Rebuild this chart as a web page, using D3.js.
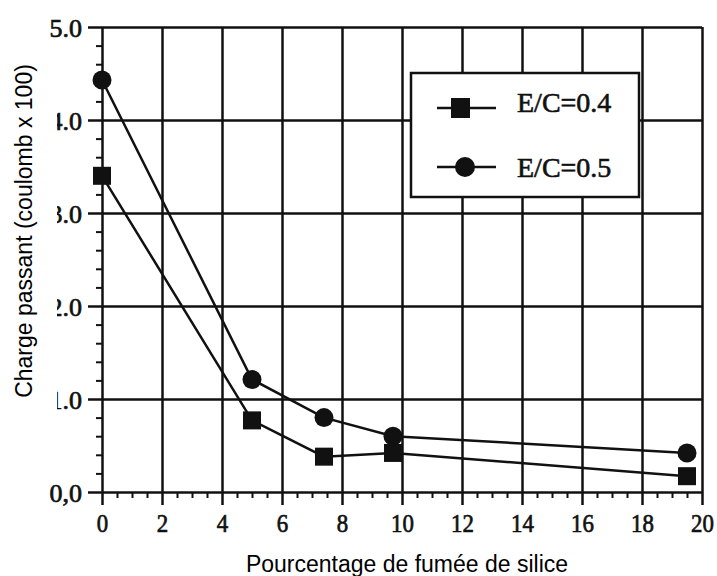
<!DOCTYPE html>
<html>
<head>
<meta charset="utf-8">
<script src="https://cdn.jsdelivr.net/npm/d3@7"></script>
<style>
  body { margin: 0; background: #fff; }
  svg { display: block; }
</style>
</head>
<body>
<svg id="canvas" width="717" height="576"></svg>
<script>
(function () {

    // % of silica fume for each series
    var pct04 = [0, 5, 7.4, 9.7, 19.5];
    var pct05 = [0, 5, 7.4, 9.7, 19.5];
    // charge passed (coulomb x 100)
    var ec04 = [3.40, 0.77, 0.38, 0.42, 0.17];
    var ec05 = [4.43, 1.21, 0.80, 0.60, 0.42];

    var seriesNames = ["E/C=0.4", "E/C=0.5"];

    var xTicks = [0, 2, 4, 6, 8, 10, 12, 14, 16, 18, 20];
    var xTickLabels = ["0", "2", "4", "6", "8", "10", "12", "14", "16", "18", "20"];
    var yTicks = [0, 1, 2, 3, 4, 5];
    var yTickLabels = ["0,0", "1.0", "2.0", "3.0", "4.0", "5.0"];

    var xTitle = "Pourcentage de fumée de silice";
    var yTitle = "Charge passant (coulomb x 100)";

    var ink = "#111";
    var serif = "'Liberation Serif', 'Times New Roman', serif";
    var sans = "'Liberation Sans', Arial, sans-serif";

    const svg = d3.select("#canvas");

    var x = d3.scaleLinear().domain([0, 20]).range([102, 702]);
    var y = d3.scaleLinear().domain([0, 5]).range([492, 27]);

    // vertical grid lines + x labels (lines run a bit below the axis)
    var xAxis = svg.append("g")
        .attr("transform", "translate(0," + y(5) + ")")
        .call(d3.axisBottom(x)
            .tickValues(xTicks)
            .tickFormat(function (d, i) { return xTickLabels[i]; })
            .tickSize(y(0) - y(5) + 13)
            .tickSizeOuter(0)
            .tickPadding(9))
        .call((g) => g.select(".domain").remove());

    xAxis.selectAll("line").attr("stroke", ink).attr("stroke-width", 2.5);
    xAxis.selectAll("text")
        .attr("font-family", serif)
        .attr("font-size", 26)
        .attr("fill", ink)
        .attr("stroke", ink)
        .attr("stroke-width", 0.7)
        .attr("transform", "scale(0.88,1)");

    // horizontal grid lines + y labels (lines run a bit left of the axis)
    var yAxis = svg.append("g")
        .attr("transform", "translate(" + x(20) + ",0)")
        .call(d3.axisLeft(y)
            .tickValues(yTicks)
            .tickFormat(function (d, i) { return yTickLabels[i]; })
            .tickSize(x(20) - x(0) + 14)
            .tickSizeOuter(0)
            .tickPadding(6))
        .call((g) => g.select(".domain").remove());

    yAxis.selectAll("line").attr("stroke", ink).attr("stroke-width", 2.5);
    yAxis.selectAll("text")
        .attr("font-family", serif)
        .attr("font-size", 26)
        .attr("dy", "0.36em")
        .attr("fill", ink)
        .attr("stroke", ink)
        .attr("stroke-width", 0.7);

    // minor ticks
    var xMinor = d3.range(0, 20.01, 0.5).filter(function (v) { return v % 2 !== 0; });
    var yMinor = d3.range(0, 5.01, 0.2).filter(function (v) { return Math.abs(v - Math.round(v)) > 0.01; });

    svg.append("g")
        .attr("transform", "translate(0," + y(0) + ")")
        .call(d3.axisBottom(x).tickValues(xMinor).tickSize(6).tickFormat(""))
        .call((g) => g.select(".domain").remove())
        .selectAll("line").attr("stroke", ink).attr("stroke-width", 2);

    svg.append("g")
        .attr("transform", "translate(" + x(0) + ",0)")
        .call(d3.axisLeft(y).tickValues(yMinor).tickSize(6).tickFormat(""))
        .call((g) => g.select(".domain").remove())
        .selectAll("line").attr("stroke", ink).attr("stroke-width", 2);

    // the white label box that clips the left tick labels
    svg.append("rect")
        .attr("x", 0).attr("y", 50)
        .attr("width", 57).attr("height", 368)
        .attr("fill", "#fff");

    // axis titles
    svg.append("text")
        .attr("x", 407).attr("y", 572)
        .attr("text-anchor", "middle")
        .attr("font-family", sans)
        .attr("font-size", 23)
        .attr("fill", "#000")
        .text(xTitle);

    svg.append("text")
        .attr("transform", "translate(32,231) rotate(-90)")
        .attr("text-anchor", "middle")
        .attr("font-family", sans)
        .attr("font-size", 23)
        .attr("fill", "#000")
        .text(yTitle);

    // series lines
    var line = d3.line()
        .x(function (d) { return x(d[0]); })
        .y(function (d) { return y(d[1]); });

    var data04 = d3.zip(pct04, ec04);
    var data05 = d3.zip(pct05, ec05);

    [data04, data05].forEach(function (data) {
        svg.append("path")
            .datum(data)
            .attr("d", line)
            .attr("fill", "none")
            .attr("stroke", ink)
            .attr("stroke-width", 2.5);
    });

    // markers: squares for 0.4, circles for 0.5
    svg.append("g").selectAll("rect")
        .data(data04)
        .join("rect")
        .attr("x", function (d) { return x(d[0]) - 9; })
        .attr("y", function (d) { return y(d[1]) - 9; })
        .attr("width", 18)
        .attr("height", 18)
        .attr("fill", ink);

    svg.append("g").selectAll("circle")
        .data(data05)
        .join("circle")
        .attr("cx", function (d) { return x(d[0]); })
        .attr("cy", function (d) { return y(d[1]); })
        .attr("r", 9.5)
        .attr("fill", ink);

    // legend
    var legend = svg.append("g");
    legend.append("rect")
        .attr("x", 411).attr("y", 73)
        .attr("width", 228).attr("height", 124)
        .attr("fill", "#fff")
        .attr("stroke", ink)
        .attr("stroke-width", 2.5);

    var rows = [108, 167];
    rows.forEach(function (ry, i) {
        legend.append("line")
            .attr("x1", 437).attr("x2", 496)
            .attr("y1", ry).attr("y2", ry)
            .attr("stroke", ink).attr("stroke-width", 2.5);
        if (i === 0) {
            legend.append("rect")
                .attr("x", 451).attr("y", ry - 10)
                .attr("width", 19).attr("height", 20)
                .attr("fill", ink);
        } else {
            legend.append("circle")
                .attr("cx", 465).attr("cy", ry)
                .attr("r", 10)
                .attr("fill", ink);
        }
        legend.append("text")
            .attr("x", 517).attr("y", ry + (i === 0 ? 4 : 10))
            .attr("font-family", serif)
            .attr("font-size", 28)
            .attr("fill", ink)
            .attr("stroke", ink)
            .attr("stroke-width", 0.6)
            .text(seriesNames[i]);
    });

})();
</script>
</body>
</html>
